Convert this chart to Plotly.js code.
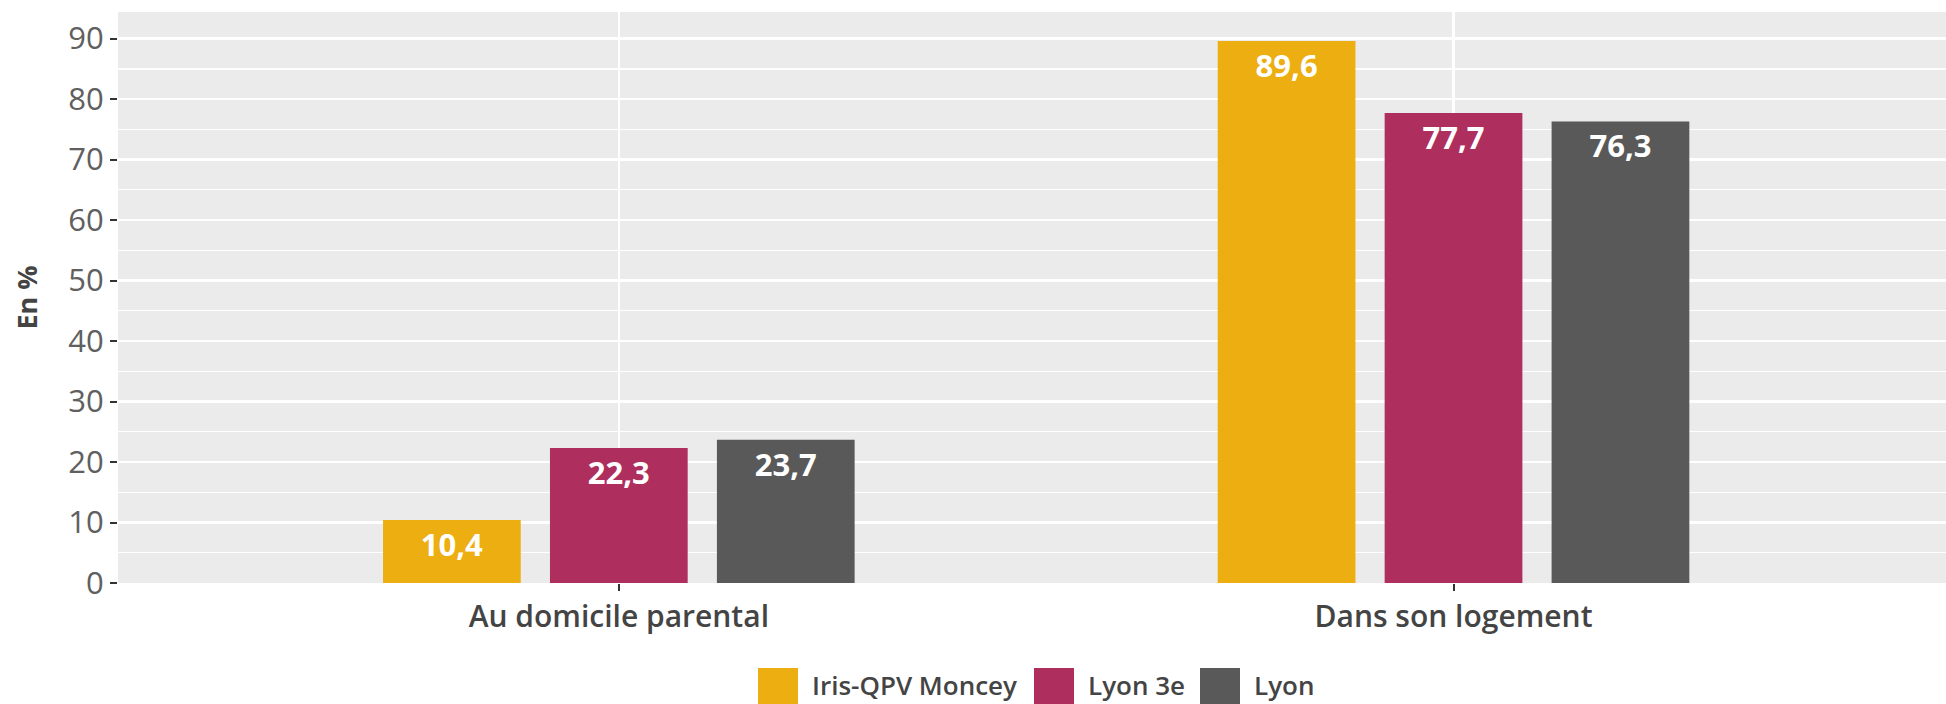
<!DOCTYPE html>
<html>
<head>
<meta charset="utf-8">
<script src="https://cdn.plot.ly/plotly-3.0.1.min.js"></script>
<style>html,body{margin:0;padding:0;background:#fff;}#chart{width:1946px;height:704px;}</style>
</head>
<body>
<div id="chart"></div>
<script>
// ---- data ----
const categories = ["Au domicile parental", "Dans son logement"];
const seriesNames = ["Iris-QPV Moncey", "Lyon 3e", "Lyon"];
const seriesColors = ["#EDAE11", "#AE2E5E", "#595959"];
const irisMoncey = [10.4, 89.6];
const lyon3e = [22.3, 77.7];
const lyon = [23.7, 76.3];
const seriesValues = [irisMoncey, lyon3e, lyon];
const yTickValues = [0, 10, 20, 30, 40, 50, 60, 70, 80, 90];

const FONT = "Open Sans, DejaVu Sans, sans-serif";

const traces = seriesNames.map((name, i) => ({
  type: "bar",
  name: name,
  x: categories,
  y: seriesValues[i],
  marker: { color: seriesColors[i], line: { width: 0 } },
  texttemplate: "%{y:.1f}",
  textposition: "inside",
  insidetextanchor: "end",
  constraintext: "none",
  textfont: { family: FONT, size: 31, color: "#ffffff", weight: 700 },
  showlegend: false,
  hoverinfo: "skip"
}));

// custom legend (large square swatches like the reference)
const W = 1946, H = 704;
const mL = 118, mR = 0, mT = 12, mB = 121;
const plotW = W - mL - mR, plotH = H - mT - mB;
const px2x = px => (px - mL) / plotW;
const py2y = py => (H - mB - py) / plotH;
const swatchLeft = [758, 1034, 1200];
const swatchSize = 40;
const swatchTop = 668;
const textCenterY = 685;

const shapes = [];
const annotations = [];
seriesNames.forEach((name, i) => {
  shapes.push({
    type: "rect", xref: "paper", yref: "paper",
    x0: px2x(swatchLeft[i]), x1: px2x(swatchLeft[i] + swatchSize),
    y0: py2y(swatchTop + swatchSize), y1: py2y(swatchTop),
    fillcolor: seriesColors[i], line: { width: 0 }, layer: "above"
  });
  annotations.push({
    xref: "paper", yref: "paper",
    x: px2x(swatchLeft[i] + swatchSize + 13), y: py2y(textCenterY),
    xanchor: "left", yanchor: "middle", showarrow: false,
    borderpad: 0,
    text: name,
    font: { family: FONT, size: 26, color: "#444444", weight: 600 }
  });
});

const layout = {
  width: W, height: H,
  margin: { l: mL, r: mR, t: mT, b: mB, pad: 0 },
  paper_bgcolor: "#ffffff",
  plot_bgcolor: "#EBEBEB",
  barmode: "group",
  bargap: 0.4,
  bargroupgap: 0.175,
  separators: ", ",
  font: { family: FONT, color: "#444444" },
  showlegend: false,
  xaxis: {
    type: "category",
    range: [-0.6, 1.59],
    showgrid: true, gridcolor: "#ffffff", gridwidth: 2.5,
    zeroline: false, showline: false,
    ticks: "outside", ticklen: 7, tickwidth: 2, tickcolor: "#333333",
    tickfont: { family: FONT, size: 30, color: "#444444", weight: 600 },
    fixedrange: true
  },
  yaxis: {
    range: [0, 94.4],
    tickvals: yTickValues,
    ticktext: yTickValues.map(String),
    showgrid: true, gridcolor: "#ffffff", gridwidth: 2.5,
    minor: { dtick: 5, tick0: 0, showgrid: true, gridcolor: "#ffffff", gridwidth: 1.3, ticks: "" },
    zeroline: false, showline: false,
    ticks: "outside", ticklen: 7, tickwidth: 2, tickcolor: "#333333",
    tickfont: { family: FONT, size: 31, color: "#606060" },
    title: { text: "En %", font: { family: FONT, size: 27, color: "#444444", weight: 700 }, standoff: 22 },
    fixedrange: true
  },
  shapes: shapes,
  annotations: annotations
};

Plotly.newPlot("chart", traces, layout, { staticPlot: true, displayModeBar: false });
</script>
</body>
</html>
